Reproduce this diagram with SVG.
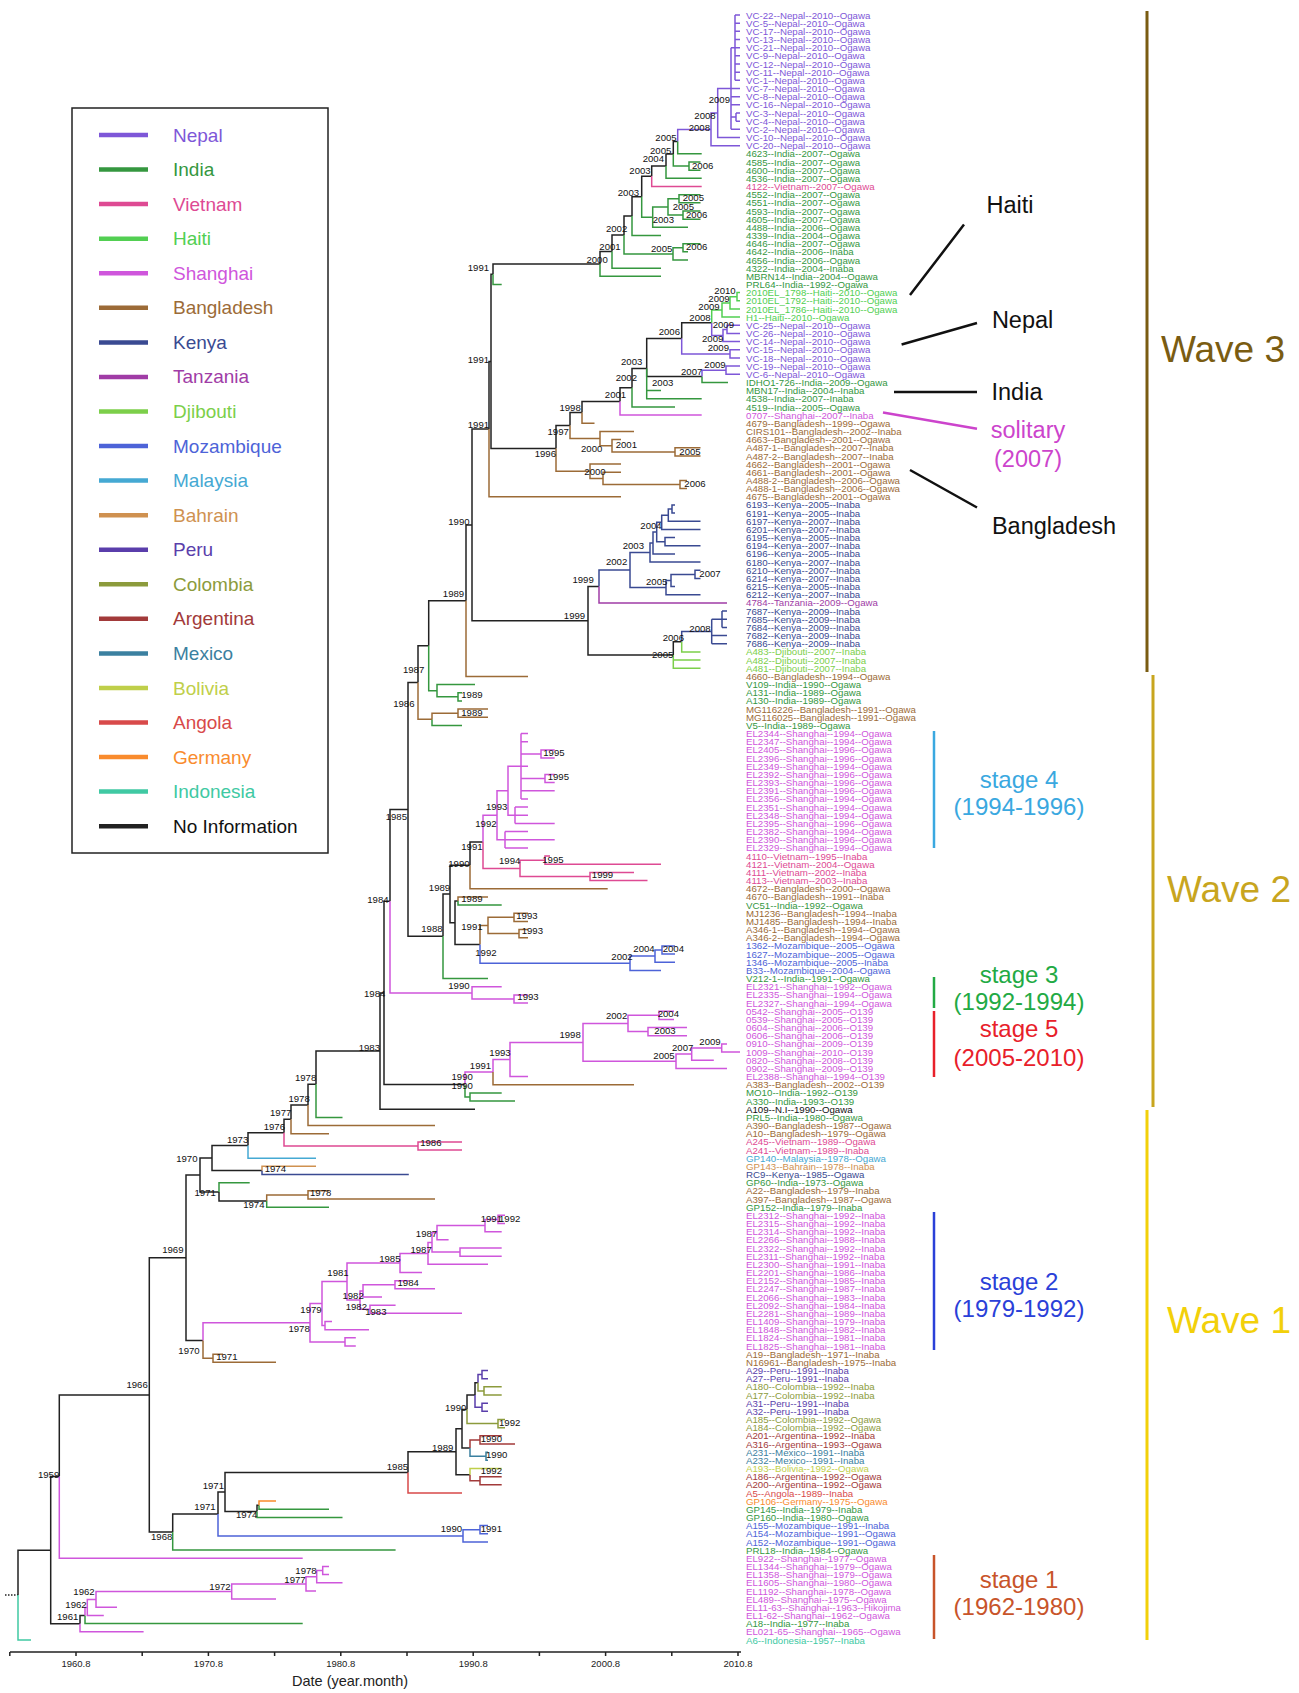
<svg xmlns="http://www.w3.org/2000/svg" width="1299" height="1693" viewBox="0 0 1299 1693">
<style>
text{font-family:"Liberation Sans",Arial,sans-serif}
.lf{font-size:9.7px}
.nl{font-size:9.6px;text-anchor:middle;fill:#111}
.lg{font-size:19px}
.co{font-size:23.5px;text-anchor:middle}
.st{font-size:24px;text-anchor:middle}
.wv{font-size:37px;text-anchor:middle}
.ax{font-size:9.5px;text-anchor:middle;fill:#222}
.e path{fill:none;stroke-width:1.5}
.k{stroke:#222}.np{stroke:#7e57d8}.in{stroke:#35973f}.vn{stroke:#de4a93}.ht{stroke:#52cf52}.sh{stroke:#cf56dc}.bd{stroke:#9c6b37}.ke{stroke:#3a4a92}.tz{stroke:#a03ca6}.dj{stroke:#7ccf4a}.mz{stroke:#4d63d8}.my{stroke:#45a9d3}.bh{stroke:#cf9150}.pe{stroke:#5a3eab}.cb{stroke:#8c9b3c}.ar{stroke:#a23a3a}.mx{stroke:#3b80a0}.bo{stroke:#bfcf4a}.ao{stroke:#d84a4a}.de{stroke:#f98b2d}.id{stroke:#40c9a3}
.fk{fill:#111}.fnp{fill:#7e57d8}.fin{fill:#35973f}.fvn{fill:#de4a93}.fht{fill:#52cf52}.fsh{fill:#cf56dc}.fbd{fill:#9c6b37}.fke{fill:#3a4a92}.ftz{fill:#a03ca6}.fdj{fill:#7ccf4a}.fmz{fill:#4d63d8}.fmy{fill:#45a9d3}.fbh{fill:#cf9150}.fpe{fill:#5a3eab}.fcb{fill:#8c9b3c}.far{fill:#a23a3a}.fmx{fill:#3b80a0}.fbo{fill:#bfcf4a}.fao{fill:#d84a4a}.fde{fill:#f98b2d}.fid{fill:#40c9a3}
</style>
<rect width="1299" height="1693" fill="#fff"/>

<g id="connectors" class="e">
<path class="k" d="M673.3,153.9V141.6H677.7M666,166.1V153.9H673.3M651.7,176.3V166.1H666M641.7,196.7V176.3H651.7M632,216.1V196.7H641.7M624,235V216.1H632M612,251.6V235H624M600,264V251.6H612M493,274.3V264H600M681.7,338.4V322.8H711.7M646.7,368.6V338.4H681.7M646.7,368.6V376.4H702M632,387.8V368.6H646.7M620,401.5V387.8H632M582,412.4V401.5H620M570,425.5V412.4H582M556,448.4V425.5H570M491,361.4V274.3H493M491,361.4V448.4H556M489,429.1V361.4H491M472,524.9V429.1H489M472,524.9V620.8H588M588,620.8V586.5H599M588,620.8V655H673.3M673.3,655V641.8H681.7M466,600.7V524.9H472M428.7,645.7V600.7H466M418,682.5V645.7H428.7M408,809.4V682.5H418M408,809.4V936.3H443M443,936.3V894H450M450,894V865.3H470M450,894V922.7H455M455,922.7V901H458M455,922.7V944.4H480M470,865.3V841.9H483M390,901.2V809.4H408M384,992.9V901.2H390M384,992.9V1084.6H465M380,1051V992.9H384M380,1051V1109.2H475M316,1084.2V1051H380M308,1104.9V1084.2H316M291,1119.3V1104.9H308M284,1132.7V1119.3H291M248,1145.5V1132.7H284M212,1158V1145.5H248M212,1158V1170.4H262M219,1191.9V1201H266.7M200,1175V1158H212M200,1175V1191.9H219M186,1257.8V1175H200M186,1257.8V1340.6H203M475,1395.1V1382.8H478M467,1409.4V1395.1H475M462,1428.8V1409.4H467M462,1428.8V1448.1H470M456,1451.8V1428.8H462M456,1451.8V1474.7H470M408,1472.4V1451.8H456M225,1491.9V1472.4H408M225,1491.9V1511.4H257M257,1511.4V1505.2H259M218,1513.9V1491.9H225M172.7,1532V1513.9H218M149.3,1394.9V1257.8H186M149.3,1394.9V1532H172.7M59.3,1476.6V1394.9H149.3M50.7,1550.2V1476.6H59.3M50.7,1550.2V1623.7H80M80,1623.7V1615.6H85M18,1595.1V1550.2H50.7"/>
<path class="k" d="M5,1595.1H18" stroke-dasharray="1.5,1.5"/>
<path class="np" d="M735,15V80.3M735,15H740M735,23.2H740M735,31.3H740M735,39.5H740M735,47.7H740M735,55.8H740M735,64H740M735,72.2H740M735,80.3H740M731,47.7V129.3M731,47.7H735M731,88.5H740M731,96.7H740M731,104.8H740M731,117.1H736M731,129.3H740M736,113V121.2M736,113H740M736,121.2H740M717.7,113V88.5H731M717.7,113V137.5H740M711,129.4V113H717.7M711,129.4V145.7H740M677.7,141.6V129.4H711M727,329.4V325.3H740M727,329.4V333.5H740M723,335.5V329.4H727M723,335.5V341.6H740M711.7,322.8V335.5H723M730,353.9V349.8H740M730,353.9V358H740M681.7,338.4V353.9H730M726,370.2V366.1H740M726,370.2V374.3H740M702,376.4V370.2H726"/>
<path class="in" d="M677.7,141.6V153.8H701.7M689,166.1V162H700.5M689,166.1V170.2H700.5M673.3,153.9V166.1H689M666,166.1V178.3H701.7M679,198.8V194.7H700.5M679,198.8V202.8H700.5M683,215.1V211H700.5M683,215.1V219.2H700.5M668,207V198.8H679M668,207V215.1H683M652.7,217.2V207H668M652.7,217.2V227.3H688M641.7,196.7V217.2H652.7M632,216.1V235.5H661M683,247.8V243.7H700.5M683,247.8V251.8H688M673,253.9V247.8H683M673,253.9V260H688M624,235V253.9H673M612,251.6V268.2H661M600,264V276.3H661M493,274.3V284.5H501.7M702,376.4V382.5H728M646.7,368.6V390.6H661M646.7,368.6V398.8H701.7M632,387.8V407H675M428.7,645.7V690.7H437M437,690.7V684.6H475M437,690.7V696.8H458M458,696.8V692.7H462M458,696.8V700.9H462M432,719.3V725.4H462M458,901V905H501.7M443,936.3V978.5H488M465,1084.6V1097H470M470,1097V1092.9H501.7M470,1097V1101H515M316,1084.2V1117.4H342.5M266.7,1201V1207.2H329M219,1191.9V1182.7H249.7M259,1505.2V1509.3H329M257,1511.4V1517.5H342.5M172.7,1532V1550.1H395.6M85,1615.6V1623.6H302.7"/>
<path class="vn" d="M651.7,176.3V186.5H701.7M545,860.2V856.1H550M545,860.2V864.2H661M590,876.5V872.4H634M590,876.5V880.5H647.5M520,868.4V860.2H545M520,868.4V876.5H590M483,841.9V868.4H520M418,1146V1141.9H462M418,1146V1150H462M284,1132.7V1146H418"/>
<path class="ht" d="M737,296.7V292.6H740M737,296.7V300.8H740M730,302.9V296.7H737M730,302.9V309H740M722,310V302.9H730M722,310V317.1H740M711.7,322.8V310H722"/>
<path class="sh" d="M620,401.5V415.1H701.7M541,754V749.9H554.7M541,754V758.1H554.7M545,778.5V774.4H554.7M545,778.5V782.6H554.7M521,733.6V798.9M521,733.6H528M521,741.7H528M521,754H541M521,766.2H528M521,778.5H545M521,790.7H554.7M521,798.9H528M515,807.1V823.4M515,807.1H528M515,815.2H528M515,823.4H554.7M508,790.8V766.3H521M508,790.8V815.2H515M505,831.6V847.9M505,831.6H528M505,839.7H554.7M505,847.9H528M497,815.3V790.8H508M497,815.3V839.7H505M483,841.9V815.3H497M514,999V994.9H528M514,999V1003H528M472,992.9V986.7H501.7M472,992.9V999H514M390,901.2V992.9H472M659,1015.3V1011.2H674M659,1015.3V1019.4H674M648,1031.6V1027.5H687M648,1031.6V1035.7H687M628,1023.5V1015.3H659M628,1023.5V1031.6H648M721.7,1048V1043.9H727M721.7,1048V1052H740M691.7,1054.1V1048H721.7M691.7,1054.1V1060.2H713.8M676,1061.3V1054.1H691.7M676,1061.3V1068.4H727M583,1042.4V1023.5H628M583,1042.4V1061.3H676M510,1059.5V1042.4H583M510,1059.5V1076.5H528M493,1072.1V1059.5H510M465,1084.6V1072.1H493M498,1219.4V1215.3H505M498,1219.4V1223.5H505M485,1225.6V1219.4H498M485,1225.6V1231.7H501.7M437,1232.7V1225.6H485M437,1232.7V1239.8H448.6M460,1252.1V1248H501.7M460,1252.1V1256.2H501.7M432,1242.4V1232.7H437M432,1242.4V1252.1H460M428,1253.4V1242.4H432M428,1253.4V1264.3H488M400,1263V1253.4H428M400,1263V1272.5H422M395,1284.8V1280.7H408.8M395,1284.8V1288.8H435M363,1290.9V1284.8H395M363,1290.9V1297H382M370,1309.3V1305.2H395.6M370,1309.3V1313.3H462M360,1300.1V1290.9H363M360,1300.1V1309.3H370M347,1281.6V1263H400M347,1281.6V1300.1H360M325,1325.6V1321.5H332M325,1325.6V1329.7H369M322,1303.6V1281.6H347M322,1303.6V1325.6H325M345,1341.9V1337.8H355.8M345,1341.9V1346H355.8M310,1322.8V1303.6H322M310,1322.8V1341.9H345M203,1340.6V1322.8H310M59.3,1476.6V1558.3H302.7M322.7,1570.6V1566.5H329M322.7,1570.6V1574.6H329M316.7,1576.7V1570.6H322.7M316.7,1576.7V1582.8H342.5M306,1583.9V1576.7H316.7M306,1583.9V1591H316M231.7,1591.5V1583.9H306M231.7,1591.5V1599.1H276M96,1599.4V1591.5H231.7M96,1599.4V1607.3H117M87.3,1607.5V1599.4H96M87.3,1607.5V1615.5H103.8M85,1615.6V1607.5H87.3M80,1623.7V1631.8H143.6"/>
<path class="bd" d="M582,412.4V423.3H594.5M675,451.9V447.8H700.5M675,451.9V456H700.5M612,445.8V439.6H621M612,445.8V451.9H675M600,438.6V431.5H634M600,438.6V445.8H612M570,425.5V438.6H600M680,484.5V480.4H687M680,484.5V488.6H687M603,478.4V472.3H621M603,478.4V484.5H680M590,471.3V464.1H621M590,471.3V478.4H603M556,448.4V471.3H590M489,429.1V496.8H621M466,600.7V676.4H528M418,682.5V719.3H432M432,719.3V713.2H458M458,713.2V709.1H488M458,713.2V717.2H488M470,865.3V888.7H607.7M458,901V896.9H488M514,917.3V913.2H528M514,917.3V921.4H528M519,933.6V929.5H528M519,933.6V937.7H528M488,925.5V917.3H514M488,925.5V933.6H519M480,944.4V925.5H488M493,1072.1V1084.7H634M308,1104.9V1125.5H435M291,1119.3V1133.7H329M308,1194.9V1190.8H329M308,1194.9V1199H435M266.7,1201V1194.9H308M213,1358.3V1354.2H223M213,1358.3V1362.3H276M203,1340.6V1358.3H213"/>
<path class="ke" d="M672,509V504.9H675M672,509V513.1H675M668.3,515.2V509H672M668.3,515.2V521.3H700.5M661.7,522.3V515.2H668.3M661.7,522.3V529.4H700.5M665,541.7V537.6H675M665,541.7V545.8H700.5M656.7,532V522.3H661.7M656.7,532V541.7H665M653,543V532H656.7M653,543V553.9H675M650,552.5V543H653M650,552.5V562.1H700.5M695,574.4V570.3H700.5M695,574.4V578.4H700.5M671,580.5V574.4H695M671,580.5V586.6H675M666,587.6V580.5H671M666,587.6V594.8H700.5M630,570.1V552.5H650M630,570.1V587.6H666M599,586.5V570.1H630M722,611.1V627.4M722,611.1H727M722,619.3H727M722,627.4H727M711.7,619.3V643.8M711.7,619.3H722M711.7,635.6H727M711.7,643.8H727M681.7,641.8V631.6H711.7M262,1170.4V1174.5H408.8"/>
<path class="tz" d="M599,586.5V602.9H727"/>
<path class="dj" d="M681.7,641.8V651.9H700.5M673.3,655V660.1H700.5M673.3,655V668.2H700.5"/>
<path class="mz" d="M662,950V945.9H675M662,950V954H675M655,956.1V950H662M655,956.1V962.2H675M630,963.3V956.1H655M630,963.3V970.4H661M480,944.4V963.3H630M480,1529.7V1525.6H488M480,1529.7V1533.8H488M463,1535.9V1529.7H480M463,1535.9V1542H488M218,1513.9V1535.9H463"/>
<path class="my" d="M248,1145.5V1158.2H316"/>
<path class="bh" d="M262,1170.4V1166.3H316"/>
<path class="pe" d="M482,1374.6V1370.5H488M482,1374.6V1378.7H488M478,1382.8V1374.6H482M482,1407.3V1403.2H488M482,1407.3V1411.3H488M475,1395.1V1407.3H482"/>
<path class="cb" d="M484,1390.9V1386.8H501.7M484,1390.9V1395H501.7M478,1382.8V1390.9H484M498,1423.6V1419.5H505M498,1423.6V1427.7H505M467,1409.4V1423.6H498"/>
<path class="ar" d="M480,1439.9V1435.8H501.7M480,1439.9V1444H515M470,1448.1V1439.9H480M480,1480.8V1476.7H501.7M480,1480.8V1484.8H501.7M470,1474.7V1480.8H480"/>
<path class="mx" d="M486,1456.3V1452.2H488M486,1456.3V1460.3H488M470,1448.1V1456.3H486"/>
<path class="bo" d="M470,1474.7V1468.5H501.7"/>
<path class="ao" d="M408,1472.4V1493H462"/>
<path class="de" d="M259,1505.2V1501.1H276"/>
<path class="id" d="M18,1595.1V1640H31"/>
</g>

<g id="node-labels" class="nl">
<text x="719.3" y="102.8">2009</text><text x="705" y="118.5">2008</text><text x="699.3" y="131.2">2008</text><text x="666" y="141.2">2005</text><text x="660.7" y="153.5">2005</text><text x="653.3" y="161.8">2004</text><text x="702.7" y="168.5">2006</text><text x="640" y="174.2">2003</text><text x="693.3" y="201.2">2005</text><text x="683.3" y="209.5">2005</text><text x="696.7" y="217.8">2006</text><text x="663.3" y="222.8">2003</text><text x="661.7" y="251.8">2005</text><text x="696.7" y="250.2">2006</text><text x="628.4" y="195.7">2003</text><text x="616.6" y="232.4">2002</text><text x="610" y="249.7">2001</text><text x="597.1" y="262.7">2000</text><text x="478.4" y="271.3">1991</text>
<text x="725" y="293.8">2010</text><text x="719" y="301.8">2009</text><text x="709" y="309.6">2009</text><text x="700" y="321.2">2008</text><text x="723.3" y="327.8">2009</text><text x="669.3" y="335.2">2006</text><text x="712.7" y="341.8">2009</text><text x="718.3" y="351.2">2009</text><text x="715" y="367.8">2009</text><text x="691.7" y="374.5">2007</text><text x="662.7" y="385.8">2003</text><text x="631.7" y="365.2">2003</text><text x="626.3" y="381.4">2002</text><text x="615.5" y="397.6">2001</text><text x="570.1" y="410.6">1998</text><text x="478.4" y="363.1">1991</text><text x="478.4" y="427.9">1991</text>
<text x="558.2" y="435.4">1997</text><text x="591.7" y="451.6">2000</text><text x="626.3" y="448.4">2001</text><text x="690" y="454.5">2005</text><text x="545.3" y="457">1996</text><text x="595" y="475.4">2000</text><text x="695" y="486.8">2006</text>
<text x="458.9" y="525">1990</text><text x="651" y="528.5">2004</text><text x="633.3" y="548.5">2003</text><text x="616.6" y="565">2002</text><text x="710" y="576.8">2007</text><text x="656.7" y="585.2">2005</text><text x="583.1" y="583.4">1999</text><text x="453.5" y="597.4">1989</text><text x="574.5" y="619">1999</text><text x="700" y="631.8">2008</text><text x="673.3" y="641.2">2006</text><text x="662.7" y="657.8">2005</text>
<text x="413.6" y="673">1987</text><text x="471.9" y="697.8">1989</text><text x="403.8" y="706.5">1986</text><text x="471.9" y="716.2">1989</text><text x="553.9" y="756.1">1995</text><text x="558.3" y="779.9">1995</text><text x="496.7" y="810.1">1993</text><text x="396.3" y="819.8">1985</text><text x="485.9" y="827.4">1992</text><text x="471.9" y="850.1">1991</text><text x="509.7" y="864.1">1994</text><text x="552.9" y="863">1995</text><text x="458.9" y="867.3">1990</text><text x="602.5" y="878.1">1999</text><text x="439.5" y="891.1">1989</text><text x="471.9" y="901.9">1989</text><text x="377.9" y="903">1984</text><text x="526.9" y="919.2">1993</text><text x="471.9" y="930">1991</text><text x="431.9" y="932.1">1988</text><text x="532.3" y="934.3">1993</text><text x="644" y="951.5">2004</text><text x="673.3" y="951.8">2004</text><text x="485.9" y="955.9">1992</text><text x="622" y="960.2">2002</text>
<text x="458.9" y="989.4">1990</text><text x="374.7" y="996.9">1984</text><text x="528" y="1000.2">1993</text><text x="616.6" y="1018.5">2002</text><text x="668.3" y="1016.8">2004</text><text x="665" y="1033.5">2003</text><text x="570.1" y="1037.9">1998</text><text x="710" y="1044.5">2009</text><text x="682.7" y="1051.2">2007</text><text x="369.3" y="1050.9">1983</text><text x="500" y="1056.3">1993</text><text x="664" y="1059.2">2005</text><text x="480.5" y="1069.3">1991</text><text x="462.2" y="1080.1">1990</text><text x="305.6" y="1081.1">1978</text><text x="462.2" y="1088.7">1990</text>
<text x="299.1" y="1101.7">1978</text><text x="280.7" y="1115.7">1977</text><text x="274.3" y="1129.7">1976</text><text x="237.6" y="1142.7">1973</text><text x="430.8" y="1145.9">1986</text><text x="186.8" y="1162.1">1970</text><text x="275.3" y="1171.8">1974</text><text x="205.2" y="1195.6">1971</text><text x="320.7" y="1195.6">1978</text><text x="253.8" y="1207.5">1974</text>
<text x="491.3" y="1221.5">1991</text><text x="509.7" y="1221.5">1992</text><text x="426.5" y="1236.6">1987</text><text x="172.8" y="1252.8">1969</text><text x="421.1" y="1252.8">1987</text><text x="389.8" y="1261.5">1985</text><text x="338" y="1275.5">1981</text><text x="408.2" y="1286.3">1984</text><text x="353.1" y="1299.3">1982</text><text x="356.3" y="1310.1">1982</text><text x="311" y="1313.3">1979</text><text x="375.8" y="1315.4">1983</text><text x="299.1" y="1331.7">1978</text><text x="189" y="1354.3">1970</text><text x="226.8" y="1359.7">1971</text><text x="137.1" y="1387.8">1966</text>
<text x="455.7" y="1410.5">1990</text><text x="509.7" y="1425.6">1992</text><text x="491.3" y="1441.8">1990</text><text x="442.7" y="1450.5">1989</text><text x="496.7" y="1458">1990</text><text x="397.4" y="1469.9">1985</text><text x="491.3" y="1474.2">1992</text><text x="48.6" y="1477.5">1959</text><text x="213.3" y="1488.5">1971</text><text x="205" y="1510.2">1971</text><text x="246.7" y="1517.8">1974</text><text x="451.4" y="1531.5">1990</text><text x="491.3" y="1531.5">1991</text><text x="161.7" y="1539.5">1968</text><text x="306" y="1574.2">1978</text><text x="295" y="1582.8">1977</text><text x="220" y="1589.5">1972</text><text x="84" y="1595.2">1962</text><text x="76" y="1607.5">1962</text><text x="67.7" y="1620.2">1961</text>
</g>

<g id="leaves" class="lf">
<text id="leaf-1" class="fnp" x="746" y="18.5">VC-22--Nepal--2010--Ogawa</text>
<text id="leaf-2" class="fnp" x="746" y="26.7">VC-5--Nepal--2010--Ogawa</text>
<text id="leaf-3" class="fnp" x="746" y="34.8">VC-17--Nepal--2010--Ogawa</text>
<text id="leaf-4" class="fnp" x="746" y="43">VC-13--Nepal--2010--Ogawa</text>
<text id="leaf-5" class="fnp" x="746" y="51.2">VC-21--Nepal--2010--Ogawa</text>
<text id="leaf-6" class="fnp" x="746" y="59.3">VC-9--Nepal--2010--Ogawa</text>
<text id="leaf-7" class="fnp" x="746" y="67.5">VC-12--Nepal--2010--Ogawa</text>
<text id="leaf-8" class="fnp" x="746" y="75.7">VC-11--Nepal--2010--Ogawa</text>
<text id="leaf-9" class="fnp" x="746" y="83.8">VC-1--Nepal--2010--Ogawa</text>
<text id="leaf-10" class="fnp" x="746" y="92">VC-7--Nepal--2010--Ogawa</text>
<text id="leaf-11" class="fnp" x="746" y="100.2">VC-8--Nepal--2010--Ogawa</text>
<text id="leaf-12" class="fnp" x="746" y="108.3">VC-16--Nepal--2010--Ogawa</text>
<text id="leaf-13" class="fnp" x="746" y="116.5">VC-3--Nepal--2010--Ogawa</text>
<text id="leaf-14" class="fnp" x="746" y="124.7">VC-4--Nepal--2010--Ogawa</text>
<text id="leaf-15" class="fnp" x="746" y="132.8">VC-2--Nepal--2010--Ogawa</text>
<text id="leaf-16" class="fnp" x="746" y="141">VC-10--Nepal--2010--Ogawa</text>
<text id="leaf-17" class="fnp" x="746" y="149.2">VC-20--Nepal--2010--Ogawa</text>
<text id="leaf-18" class="fin" x="746" y="157.3">4623--India--2007--Ogawa</text>
<text id="leaf-19" class="fin" x="746" y="165.5">4585--India--2007--Ogawa</text>
<text id="leaf-20" class="fin" x="746" y="173.7">4600--India--2007--Ogawa</text>
<text id="leaf-21" class="fin" x="746" y="181.8">4536--India--2007--Ogawa</text>
<text id="leaf-22" class="fvn" x="746" y="190">4122--Vietnam--2007--Ogawa</text>
<text id="leaf-23" class="fin" x="746" y="198.2">4552--India--2007--Ogawa</text>
<text id="leaf-24" class="fin" x="746" y="206.3">4551--India--2007--Ogawa</text>
<text id="leaf-25" class="fin" x="746" y="214.5">4593--India--2007--Ogawa</text>
<text id="leaf-26" class="fin" x="746" y="222.7">4605--India--2007--Ogawa</text>
<text id="leaf-27" class="fin" x="746" y="230.8">4488--India--2006--Ogawa</text>
<text id="leaf-28" class="fin" x="746" y="239">4339--India--2004--Ogawa</text>
<text id="leaf-29" class="fin" x="746" y="247.2">4646--India--2007--Ogawa</text>
<text id="leaf-30" class="fin" x="746" y="255.3">4642--India--2006--Inaba</text>
<text id="leaf-31" class="fin" x="746" y="263.5">4656--India--2006--Ogawa</text>
<text id="leaf-32" class="fin" x="746" y="271.7">4322--India--2004--Inaba</text>
<text id="leaf-33" class="fin" x="746" y="279.8">MBRN14--India--2004--Ogawa</text>
<text id="leaf-34" class="fin" x="746" y="288">PRL64--India--1992--Ogawa</text>
<text id="leaf-35" class="fht" x="746" y="296.1">2010EL_1798--Haiti--2010--Ogawa</text>
<text id="leaf-36" class="fht" x="746" y="304.3">2010EL_1792--Haiti--2010--Ogawa</text>
<text id="leaf-37" class="fht" x="746" y="312.5">2010EL_1786--Haiti--2010--Ogawa</text>
<text id="leaf-38" class="fht" x="746" y="320.6">H1--Haiti--2010--Ogawa</text>
<text id="leaf-39" class="fnp" x="746" y="328.8">VC-25--Nepal--2010--Ogawa</text>
<text id="leaf-40" class="fnp" x="746" y="337">VC-26--Nepal--2010--Ogawa</text>
<text id="leaf-41" class="fnp" x="746" y="345.1">VC-14--Nepal--2010--Ogawa</text>
<text id="leaf-42" class="fnp" x="746" y="353.3">VC-15--Nepal--2010--Ogawa</text>
<text id="leaf-43" class="fnp" x="746" y="361.5">VC-18--Nepal--2010--Ogawa</text>
<text id="leaf-44" class="fnp" x="746" y="369.6">VC-19--Nepal--2010--Ogawa</text>
<text id="leaf-45" class="fnp" x="746" y="377.8">VC-6--Nepal--2010--Ogawa</text>
<text id="leaf-46" class="fin" x="746" y="386">IDHO1-726--India--2009--Ogawa</text>
<text id="leaf-47" class="fin" x="746" y="394.1">MBN17--India--2004--Inaba</text>
<text id="leaf-48" class="fin" x="746" y="402.3">4538--India--2007--Inaba</text>
<text id="leaf-49" class="fin" x="746" y="410.5">4519--India--2005--Ogawa</text>
<text id="leaf-50" class="fsh" x="746" y="418.6">0707--Shanghai--2007--Inaba</text>
<text id="leaf-51" class="fbd" x="746" y="426.8">4679--Bangladesh--1999--Ogawa</text>
<text id="leaf-52" class="fbd" x="746" y="435">CIRS101--Bangladesh--2002--Inaba</text>
<text id="leaf-53" class="fbd" x="746" y="443.1">4663--Bangladesh--2001--Ogawa</text>
<text id="leaf-54" class="fbd" x="746" y="451.3">A487-1--Bangladesh--2007--Inaba</text>
<text id="leaf-55" class="fbd" x="746" y="459.5">A487-2--Bangladesh--2007--Inaba</text>
<text id="leaf-56" class="fbd" x="746" y="467.6">4662--Bangladesh--2001--Ogawa</text>
<text id="leaf-57" class="fbd" x="746" y="475.8">4661--Bangladesh--2001--Ogawa</text>
<text id="leaf-58" class="fbd" x="746" y="484">A488-2--Bangladesh--2006--Ogawa</text>
<text id="leaf-59" class="fbd" x="746" y="492.1">A488-1--Bangladesh--2006--Ogawa</text>
<text id="leaf-60" class="fbd" x="746" y="500.3">4675--Bangladesh--2001--Ogawa</text>
<text id="leaf-61" class="fke" x="746" y="508.4">6193--Kenya--2005--Inaba</text>
<text id="leaf-62" class="fke" x="746" y="516.6">6191--Kenya--2005--Inaba</text>
<text id="leaf-63" class="fke" x="746" y="524.8">6197--Kenya--2007--Inaba</text>
<text id="leaf-64" class="fke" x="746" y="532.9">6201--Kenya--2007--Inaba</text>
<text id="leaf-65" class="fke" x="746" y="541.1">6195--Kenya--2005--Inaba</text>
<text id="leaf-66" class="fke" x="746" y="549.3">6194--Kenya--2007--Inaba</text>
<text id="leaf-67" class="fke" x="746" y="557.4">6196--Kenya--2005--Inaba</text>
<text id="leaf-68" class="fke" x="746" y="565.6">6180--Kenya--2007--Inaba</text>
<text id="leaf-69" class="fke" x="746" y="573.8">6210--Kenya--2007--Inaba</text>
<text id="leaf-70" class="fke" x="746" y="581.9">6214--Kenya--2007--Inaba</text>
<text id="leaf-71" class="fke" x="746" y="590.1">6215--Kenya--2005--Inaba</text>
<text id="leaf-72" class="fke" x="746" y="598.3">6212--Kenya--2007--Inaba</text>
<text id="leaf-73" class="ftz" x="746" y="606.4">4784--Tanzania--2009--Ogawa</text>
<text id="leaf-74" class="fke" x="746" y="614.6">7687--Kenya--2009--Inaba</text>
<text id="leaf-75" class="fke" x="746" y="622.8">7685--Kenya--2009--Inaba</text>
<text id="leaf-76" class="fke" x="746" y="630.9">7684--Kenya--2009--Inaba</text>
<text id="leaf-77" class="fke" x="746" y="639.1">7682--Kenya--2009--Inaba</text>
<text id="leaf-78" class="fke" x="746" y="647.3">7686--Kenya--2009--Inaba</text>
<text id="leaf-79" class="fdj" x="746" y="655.4">A483--Djibouti--2007--Inaba</text>
<text id="leaf-80" class="fdj" x="746" y="663.6">A482--Djibouti--2007--Inaba</text>
<text id="leaf-81" class="fdj" x="746" y="671.7">A481--Djibouti--2007--Inaba</text>
<text id="leaf-82" class="fbd" x="746" y="679.9">4660--Bangladesh--1994--Ogawa</text>
<text id="leaf-83" class="fin" x="746" y="688.1">V109--India--1990--Ogawa</text>
<text id="leaf-84" class="fin" x="746" y="696.2">A131--India--1989--Ogawa</text>
<text id="leaf-85" class="fin" x="746" y="704.4">A130--India--1989--Ogawa</text>
<text id="leaf-86" class="fbd" x="746" y="712.6">MG116226--Bangladesh--1991--Ogawa</text>
<text id="leaf-87" class="fbd" x="746" y="720.7">MG116025--Bangladesh--1991--Ogawa</text>
<text id="leaf-88" class="fin" x="746" y="728.9">V5--India--1989--Ogawa</text>
<text id="leaf-89" class="fsh" x="746" y="737.1">EL2344--Shanghai--1994--Ogawa</text>
<text id="leaf-90" class="fsh" x="746" y="745.2">EL2347--Shanghai--1994--Ogawa</text>
<text id="leaf-91" class="fsh" x="746" y="753.4">EL2405--Shanghai--1996--Ogawa</text>
<text id="leaf-92" class="fsh" x="746" y="761.6">EL2396--Shanghai--1996--Ogawa</text>
<text id="leaf-93" class="fsh" x="746" y="769.7">EL2349--Shanghai--1994--Ogawa</text>
<text id="leaf-94" class="fsh" x="746" y="777.9">EL2392--Shanghai--1996--Ogawa</text>
<text id="leaf-95" class="fsh" x="746" y="786.1">EL2393--Shanghai--1996--Ogawa</text>
<text id="leaf-96" class="fsh" x="746" y="794.2">EL2391--Shanghai--1996--Ogawa</text>
<text id="leaf-97" class="fsh" x="746" y="802.4">EL2356--Shanghai--1994--Ogawa</text>
<text id="leaf-98" class="fsh" x="746" y="810.6">EL2351--Shanghai--1994--Ogawa</text>
<text id="leaf-99" class="fsh" x="746" y="818.7">EL2348--Shanghai--1994--Ogawa</text>
<text id="leaf-100" class="fsh" x="746" y="826.9">EL2395--Shanghai--1996--Ogawa</text>
<text id="leaf-101" class="fsh" x="746" y="835.1">EL2382--Shanghai--1994--Ogawa</text>
<text id="leaf-102" class="fsh" x="746" y="843.2">EL2390--Shanghai--1996--Ogawa</text>
<text id="leaf-103" class="fsh" x="746" y="851.4">EL2329--Shanghai--1994--Ogawa</text>
<text id="leaf-104" class="fvn" x="746" y="859.6">4110--Vietnam--1995--Inaba</text>
<text id="leaf-105" class="fvn" x="746" y="867.7">4121--Vietnam--2004--Ogawa</text>
<text id="leaf-106" class="fvn" x="746" y="875.9">4111--Vietnam--2002--Inaba</text>
<text id="leaf-107" class="fvn" x="746" y="884">4113--Vietnam--2003--Inaba</text>
<text id="leaf-108" class="fbd" x="746" y="892.2">4672--Bangladesh--2000--Ogawa</text>
<text id="leaf-109" class="fbd" x="746" y="900.4">4670--Bangladesh--1991--Inaba</text>
<text id="leaf-110" class="fin" x="746" y="908.5">VC51--India--1992--Ogawa</text>
<text id="leaf-111" class="fbd" x="746" y="916.7">MJ1236--Bangladesh--1994--Inaba</text>
<text id="leaf-112" class="fbd" x="746" y="924.9">MJ1485--Bangladesh--1994--Inaba</text>
<text id="leaf-113" class="fbd" x="746" y="933">A346-1--Bangladesh--1994--Ogawa</text>
<text id="leaf-114" class="fbd" x="746" y="941.2">A346-2--Bangladesh--1994--Ogawa</text>
<text id="leaf-115" class="fmz" x="746" y="949.4">1362--Mozambique--2005--Ogawa</text>
<text id="leaf-116" class="fmz" x="746" y="957.5">1627--Mozambique--2005--Ogawa</text>
<text id="leaf-117" class="fmz" x="746" y="965.7">1346--Mozambique--2005--Inaba</text>
<text id="leaf-118" class="fmz" x="746" y="973.9">B33--Mozambique--2004--Ogawa</text>
<text id="leaf-119" class="fin" x="746" y="982">V212-1--India--1991--Ogawa</text>
<text id="leaf-120" class="fsh" x="746" y="990.2">EL2321--Shanghai--1992--Ogawa</text>
<text id="leaf-121" class="fsh" x="746" y="998.4">EL2335--Shanghai--1994--Ogawa</text>
<text id="leaf-122" class="fsh" x="746" y="1006.5">EL2327--Shanghai--1994--Ogawa</text>
<text id="leaf-123" class="fsh" x="746" y="1014.7">0542--Shanghai--2005--O139</text>
<text id="leaf-124" class="fsh" x="746" y="1022.9">0539--Shanghai--2005--O139</text>
<text id="leaf-125" class="fsh" x="746" y="1031">0604--Shanghai--2006--O139</text>
<text id="leaf-126" class="fsh" x="746" y="1039.2">0606--Shanghai--2006--O139</text>
<text id="leaf-127" class="fsh" x="746" y="1047.4">0910--Shanghai--2009--O139</text>
<text id="leaf-128" class="fsh" x="746" y="1055.5">1009--Shanghai--2010--O139</text>
<text id="leaf-129" class="fsh" x="746" y="1063.7">0820--Shanghai--2008--O139</text>
<text id="leaf-130" class="fsh" x="746" y="1071.9">0902--Shanghai--2009--O139</text>
<text id="leaf-131" class="fsh" x="746" y="1080">EL2388--Shanghai--1994--O139</text>
<text id="leaf-132" class="fbd" x="746" y="1088.2">A383--Bangladesh--2002--O139</text>
<text id="leaf-133" class="fin" x="746" y="1096.4">MO10--India--1992--O139</text>
<text id="leaf-134" class="fin" x="746" y="1104.5">A330--India--1993--O139</text>
<text id="leaf-135" class="fk" x="746" y="1112.7">A109--N.I--1990--Ogawa</text>
<text id="leaf-136" class="fin" x="746" y="1120.9">PRL5--India--1980--Ogawa</text>
<text id="leaf-137" class="fbd" x="746" y="1129">A390--Bangladesh--1987--Ogawa</text>
<text id="leaf-138" class="fbd" x="746" y="1137.2">A10--Bangladesh--1979--Ogawa</text>
<text id="leaf-139" class="fvn" x="746" y="1145.4">A245--Vietnam--1989--Ogawa</text>
<text id="leaf-140" class="fvn" x="746" y="1153.5">A241--Vietnam--1989--Inaba</text>
<text id="leaf-141" class="fmy" x="746" y="1161.7">GP140--Malaysia--1978--Ogawa</text>
<text id="leaf-142" class="fbh" x="746" y="1169.8">GP143--Bahrain--1978--Inaba</text>
<text id="leaf-143" class="fke" x="746" y="1178">RC9--Kenya--1985--Ogawa</text>
<text id="leaf-144" class="fin" x="746" y="1186.2">GP60--India--1973--Ogawa</text>
<text id="leaf-145" class="fbd" x="746" y="1194.3">A22--Bangladesh--1979--Inaba</text>
<text id="leaf-146" class="fbd" x="746" y="1202.5">A397--Bangladesh--1987--Ogawa</text>
<text id="leaf-147" class="fin" x="746" y="1210.7">GP152--India--1979--Inaba</text>
<text id="leaf-148" class="fsh" x="746" y="1218.8">EL2312--Shanghai--1992--Inaba</text>
<text id="leaf-149" class="fsh" x="746" y="1227">EL2315--Shanghai--1992--Inaba</text>
<text id="leaf-150" class="fsh" x="746" y="1235.2">EL2314--Shanghai--1992--Inaba</text>
<text id="leaf-151" class="fsh" x="746" y="1243.3">EL2266--Shanghai--1988--Inaba</text>
<text id="leaf-152" class="fsh" x="746" y="1251.5">EL2322--Shanghai--1992--Inaba</text>
<text id="leaf-153" class="fsh" x="746" y="1259.7">EL2311--Shanghai--1992--Inaba</text>
<text id="leaf-154" class="fsh" x="746" y="1267.8">EL2300--Shanghai--1991--Inaba</text>
<text id="leaf-155" class="fsh" x="746" y="1276">EL2201--Shanghai--1986--Inaba</text>
<text id="leaf-156" class="fsh" x="746" y="1284.2">EL2152--Shanghai--1985--Inaba</text>
<text id="leaf-157" class="fsh" x="746" y="1292.3">EL2247--Shanghai--1987--Inaba</text>
<text id="leaf-158" class="fsh" x="746" y="1300.5">EL2066--Shanghai--1983--Inaba</text>
<text id="leaf-159" class="fsh" x="746" y="1308.7">EL2092--Shanghai--1984--Inaba</text>
<text id="leaf-160" class="fsh" x="746" y="1316.8">EL2281--Shanghai--1989--Inaba</text>
<text id="leaf-161" class="fsh" x="746" y="1325">EL1409--Shanghai--1979--Inaba</text>
<text id="leaf-162" class="fsh" x="746" y="1333.2">EL1848--Shanghai--1982--Inaba</text>
<text id="leaf-163" class="fsh" x="746" y="1341.3">EL1824--Shanghai--1981--Inaba</text>
<text id="leaf-164" class="fsh" x="746" y="1349.5">EL1825--Shanghai--1981--Inaba</text>
<text id="leaf-165" class="fbd" x="746" y="1357.7">A19--Bangladesh--1971--Inaba</text>
<text id="leaf-166" class="fbd" x="746" y="1365.8">N16961--Bangladesh--1975--Inaba</text>
<text id="leaf-167" class="fpe" x="746" y="1374">A29--Peru--1991--Inaba</text>
<text id="leaf-168" class="fpe" x="746" y="1382.2">A27--Peru--1991--Inaba</text>
<text id="leaf-169" class="fcb" x="746" y="1390.3">A180--Colombia--1992--Inaba</text>
<text id="leaf-170" class="fcb" x="746" y="1398.5">A177--Colombia--1992--Inaba</text>
<text id="leaf-171" class="fpe" x="746" y="1406.7">A31--Peru--1991--Inaba</text>
<text id="leaf-172" class="fpe" x="746" y="1414.8">A32--Peru--1991--Inaba</text>
<text id="leaf-173" class="fcb" x="746" y="1423">A185--Colombia--1992--Ogawa</text>
<text id="leaf-174" class="fcb" x="746" y="1431.2">A184--Colombia--1992--Ogawa</text>
<text id="leaf-175" class="far" x="746" y="1439.3">A201--Argentina--1992--Inaba</text>
<text id="leaf-176" class="far" x="746" y="1447.5">A316--Argentina--1993--Ogawa</text>
<text id="leaf-177" class="fmx" x="746" y="1455.7">A231--Mexico--1991--Inaba</text>
<text id="leaf-178" class="fmx" x="746" y="1463.8">A232--Mexico--1991--Inaba</text>
<text id="leaf-179" class="fbo" x="746" y="1472">A193--Bolivia--1992--Ogawa</text>
<text id="leaf-180" class="far" x="746" y="1480.2">A186--Argentina--1992--Ogawa</text>
<text id="leaf-181" class="far" x="746" y="1488.3">A200--Argentina--1992--Ogawa</text>
<text id="leaf-182" class="fao" x="746" y="1496.5">A5--Angola--1989--Inaba</text>
<text id="leaf-183" class="fde" x="746" y="1504.6">GP106--Germany--1975--Ogawa</text>
<text id="leaf-184" class="fin" x="746" y="1512.8">GP145--India--1979--Inaba</text>
<text id="leaf-185" class="fin" x="746" y="1521">GP160--India--1980--Ogawa</text>
<text id="leaf-186" class="fmz" x="746" y="1529.1">A155--Mozambique--1991--Inaba</text>
<text id="leaf-187" class="fmz" x="746" y="1537.3">A154--Mozambique--1991--Ogawa</text>
<text id="leaf-188" class="fmz" x="746" y="1545.5">A152--Mozambique--1991--Ogawa</text>
<text id="leaf-189" class="fin" x="746" y="1553.6">PRL18--India--1984--Ogawa</text>
<text id="leaf-190" class="fsh" x="746" y="1561.8">EL922--Shanghai--1977--Ogawa</text>
<text id="leaf-191" class="fsh" x="746" y="1570">EL1344--Shanghai--1979--Ogawa</text>
<text id="leaf-192" class="fsh" x="746" y="1578.1">EL1358--Shanghai--1979--Ogawa</text>
<text id="leaf-193" class="fsh" x="746" y="1586.3">EL1605--Shanghai--1980--Ogawa</text>
<text id="leaf-194" class="fsh" x="746" y="1594.5">EL1192--Shanghai--1978--Ogawa</text>
<text id="leaf-195" class="fsh" x="746" y="1602.6">EL489--Shanghai--1975--Ogawa</text>
<text id="leaf-196" class="fsh" x="746" y="1610.8">EL11-63--Shanghai--1963--Hikojima</text>
<text id="leaf-197" class="fsh" x="746" y="1619">EL1-62--Shanghai--1962--Ogawa</text>
<text id="leaf-198" class="fin" x="746" y="1627.1">A18--India--1977--Inaba</text>
<text id="leaf-199" class="fsh" x="746" y="1635.3">EL021-65--Shanghai--1965--Ogawa</text>
<text id="leaf-200" class="fid" x="746" y="1643.5">A6--Indonesia--1957--Inaba</text>
</g>

<g id="axis">
<path d="M10,1652H741M9.8,1652v4M76,1652v4M142.2,1652v4M208.4,1652v4M274.6,1652v4M340.8,1652v4M407,1652v4M473.2,1652v4M539.4,1652v4M605.6,1652v4M671.8,1652v4M738,1652v4" stroke="#222" stroke-width="1.5" fill="none"/>
<text class="ax" x="76" y="1666.5">1960.8</text><text class="ax" x="208.4" y="1666.5">1970.8</text><text class="ax" x="340.8" y="1666.5">1980.8</text><text class="ax" x="473.2" y="1666.5">1990.8</text><text class="ax" x="605.6" y="1666.5">2000.8</text><text class="ax" x="738" y="1666.5">2010.8</text>
<text x="350" y="1686" font-size="14.5" text-anchor="middle" fill="#222">Date (year.month)</text>
</g>

<g id="legend">
<rect x="72" y="108" width="256" height="745" fill="none" stroke="#222" stroke-width="1.5"/>
<g stroke-width="4.5" fill="none">
<path class="np" d="M99,135H148"/><path class="in" d="M99,169.6H148"/><path class="vn" d="M99,204.1H148"/><path class="ht" d="M99,238.7H148"/><path class="sh" d="M99,273.2H148"/><path class="bd" d="M99,307.8H148"/><path class="ke" d="M99,342.4H148"/><path class="tz" d="M99,376.9H148"/><path class="dj" d="M99,411.5H148"/><path class="mz" d="M99,446H148"/><path class="my" d="M99,480.6H148"/><path class="bh" d="M99,515.2H148"/><path class="pe" d="M99,549.7H148"/><path class="cb" d="M99,584.3H148"/><path class="ar" d="M99,618.8H148"/><path class="mx" d="M99,653.4H148"/><path class="bo" d="M99,688H148"/><path class="ao" d="M99,722.5H148"/><path class="de" d="M99,757.1H148"/><path class="id" d="M99,791.6H148"/><path class="k" d="M99,826.2H148"/>
</g>
<g class="lg">
<text class="fnp" x="173" y="141.5">Nepal</text><text class="fin" x="173" y="176.1">India</text><text class="fvn" x="173" y="210.6">Vietnam</text><text class="fht" x="173" y="245.2">Haiti</text><text class="fsh" x="173" y="279.7">Shanghai</text><text class="fbd" x="173" y="314.3">Bangladesh</text><text class="fke" x="173" y="348.9">Kenya</text><text class="ftz" x="173" y="383.4">Tanzania</text><text class="fdj" x="173" y="418">Djibouti</text><text class="fmz" x="173" y="452.5">Mozambique</text><text class="fmy" x="173" y="487.1">Malaysia</text><text class="fbh" x="173" y="521.7">Bahrain</text><text class="fpe" x="173" y="556.2">Peru</text><text class="fcb" x="173" y="590.8">Colombia</text><text class="far" x="173" y="625.3">Argentina</text><text class="fmx" x="173" y="659.9">Mexico</text><text class="fbo" x="173" y="694.5">Bolivia</text><text class="fao" x="173" y="729">Angola</text><text class="fde" x="173" y="763.6">Germany</text><text class="fid" x="173" y="798.1">Indonesia</text><text class="fk" x="173" y="832.7">No Information</text>
</g>
</g>

<g id="callouts">
<path d="M910,295L964,224.6M901.6,344.5L977,323M894,392H977M910,470L977,507.5" stroke="#111" stroke-width="2.5" fill="none"/>
<path d="M883,412.5L977,428.7" stroke="#cc44cc" stroke-width="2.5" fill="none"/>
<text class="co" x="1010" y="213" fill="#111">Haiti</text>
<text class="co" x="1022.6" y="328" fill="#111">Nepal</text>
<text class="co" x="1017" y="400" fill="#111">India</text>
<text class="co" x="1028" y="438" fill="#cc44cc">solitary</text>
<text class="co" x="1028" y="467" fill="#cc44cc">(2007)</text>
<text class="co" x="1054" y="534" fill="#111">Bangladesh</text>
</g>

<g id="stages">
<path d="M934,731V848" stroke="#3aa8e0" stroke-width="2.5"/>
<text class="st" x="1019" y="788" fill="#3aa8e0">stage 4</text><text class="st" x="1019" y="815" fill="#3aa8e0">(1994-1996)</text>
<path d="M934,977V1008" stroke="#22aa44" stroke-width="2.5"/>
<text class="st" x="1019" y="983" fill="#22aa44">stage 3</text><text class="st" x="1019" y="1010" fill="#22aa44">(1992-1994)</text>
<path d="M934,1011V1077" stroke="#e8202a" stroke-width="2.5"/>
<text class="st" x="1019" y="1037" fill="#e8202a">stage 5</text><text class="st" x="1019" y="1066" fill="#e8202a">(2005-2010)</text>
<path d="M934,1212V1350" stroke="#2a40d8" stroke-width="2.5"/>
<text class="st" x="1019" y="1290" fill="#2a40d8">stage 2</text><text class="st" x="1019" y="1317" fill="#2a40d8">(1979-1992)</text>
<path d="M934,1555V1639" stroke="#c8542a" stroke-width="2.5"/>
<text class="st" x="1019" y="1588" fill="#c8542a">stage 1</text><text class="st" x="1019" y="1615" fill="#c8542a">(1962-1980)</text>
</g>

<g id="waves">
<path d="M1147,11V672" stroke="#7a5c12" stroke-width="3"/>
<text class="wv" x="1223" y="362" fill="#7a5c12">Wave 3</text>
<path d="M1153,675V1107" stroke="#c8a51e" stroke-width="3"/>
<text class="wv" x="1229" y="902" fill="#c8a51e">Wave 2</text>
<path d="M1147,1110V1640" stroke="#f2d00a" stroke-width="3"/>
<text class="wv" x="1229" y="1333" fill="#f2d00a">Wave 1</text>
</g>
</svg>
